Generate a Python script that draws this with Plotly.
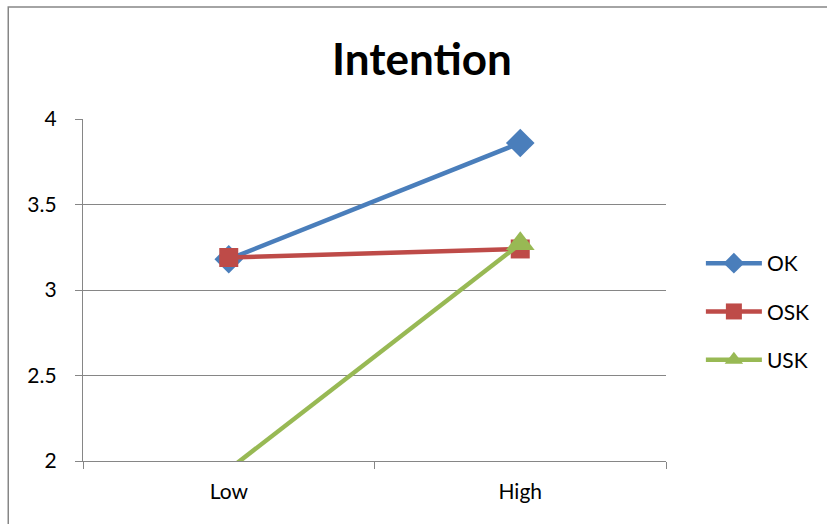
import plotly.graph_objects as go

# Mean intention scores by condition
categories = ["Low", "High"]
ok_values = [3.18, 3.86]
osk_values = [3.19, 3.24]
usk_values = [1.95, 3.27]

series = [
    ("OK", ok_values, "#4A7EBB", "diamond", 22),
    ("OSK", osk_values, "#BE4B48", "square", 19),
    ("USK", usk_values, "#98B954", "triangle-up", 25),
]

y_ticks = [2, 2.5, 3, 3.5, 4]
y_min, y_max = 2, 4

fig = go.Figure()
for name, vals, color, symbol, size in series:
    # points outside the value axis range get no marker, only the clipped line
    opac = [1 if y_min <= v <= y_max else 0 for v in vals]
    fig.add_trace(go.Scatter(
        x=categories, y=vals, name=name, mode="lines+markers",
        legendgroup=name, showlegend=False,
        line=dict(color=color, width=4.5),
        marker=dict(symbol=symbol, size=size, color=color, opacity=opac),
        cliponaxis=True,
    ))
    # legend key for the series
    fig.add_trace(go.Scatter(
        x=[None], y=[None], name=name, mode="lines+markers",
        legendgroup=name, showlegend=True,
        line=dict(color=color, width=4.5),
        marker=dict(symbol=symbol, size=size, color=color),
    ))

L, R, T, B = 83, 668, 119, 461
W, H = 827, 524
pw, ph = R - L, B - T

grid = "#868686"
font_family = "Lato, Carlito, Calibri, sans-serif"
fig.update_layout(
    width=W, height=H,
    margin=dict(l=L, r=W - R, t=T, b=H - B),
    paper_bgcolor="white", plot_bgcolor="white",
    font=dict(family=font_family, color="black", size=21),
    title=dict(text="<b>Intention</b>", x=422 / W, xanchor="center",
               y=1 - 60 / H, yanchor="middle",
               font=dict(size=44, family=font_family)),
    showlegend=True,
    legend=dict(x=(703 - L) / pw, xanchor="left", y=(B - 243) / ph, yanchor="top",
                font=dict(size=21), itemwidth=56, tracegroupgap=18,
                bgcolor="rgba(0,0,0,0)", itemsizing="trace"),
    xaxis=dict(range=[-0.5, 1.5], showgrid=False, showline=True, linecolor=grid,
               linewidth=1, ticks="outside", tickson="boundaries", ticklen=7,
               tickcolor=grid, tickfont=dict(size=21), fixedrange=True,
               ticklabelstandoff=12),
    yaxis=dict(range=[y_min, y_max], tickvals=y_ticks,
               ticktext=["2", "2.5", "3", "3.5", "4"],
               showgrid=True, gridcolor=grid, gridwidth=1.3, showline=True,
               linecolor=grid, linewidth=1.3, ticks="outside", ticklen=7,
               tickcolor=grid, tickfont=dict(size=21), zeroline=False,
               ticklabelstandoff=14),
)

# Chart-area border
fig.add_shape(type="rect", xref="paper", yref="paper",
              x0=(8 - L) / pw, x1=(W + 10 - L) / pw,
              y0=(B - (H + 10)) / ph, y1=(B - 7) / ph,
              line=dict(color="#868686", width=1.5), layer="below")

fig.write_html("out.html")
